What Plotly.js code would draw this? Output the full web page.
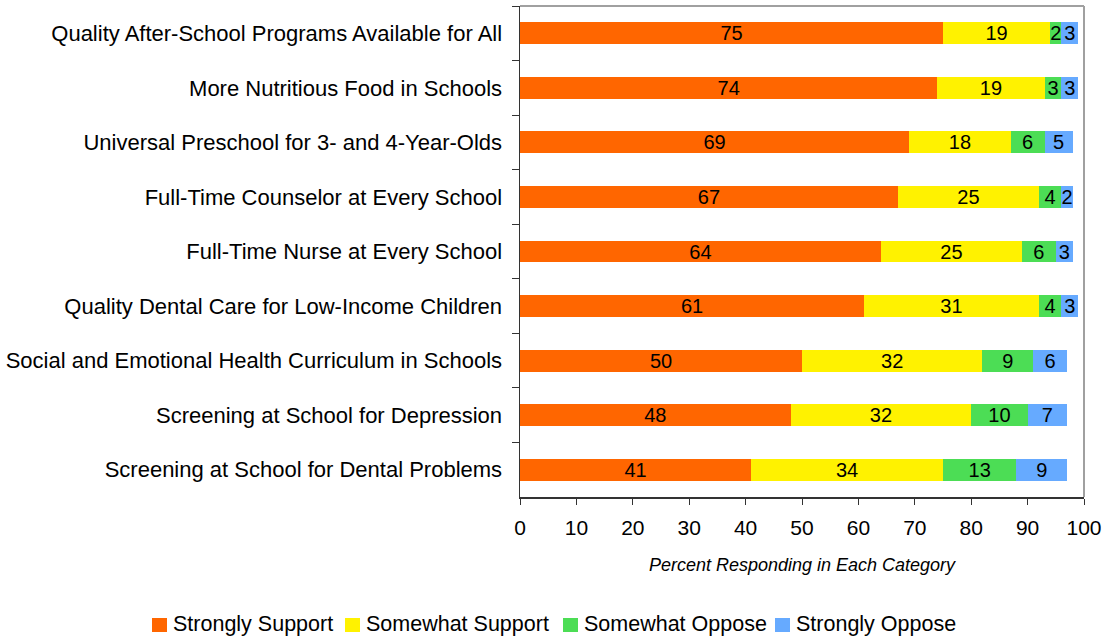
<!DOCTYPE html>
<html>
<head>
<meta charset="utf-8">
<script src="https://cdn.plot.ly/plotly-3.0.1.min.js"></script>
<style>html,body{margin:0;padding:0;background:#fff;}#chart{width:1104px;height:639px;}</style>
</head>
<body>
<div id="chart"></div>
<script>
const categories = [
  "Quality After-School Programs Available for All",
  "More Nutritious Food in Schools",
  "Universal Preschool for 3- and 4-Year-Olds",
  "Full-Time Counselor at Every School",
  "Full-Time Nurse at Every School",
  "Quality Dental Care for Low-Income Children",
  "Social and Emotional Health Curriculum in Schools",
  "Screening at School for Depression",
  "Screening at School for Dental Problems"
];
const stronglySupport = [75, 74, 69, 67, 64, 61, 50, 48, 41];
const somewhatSupport = [19, 19, 18, 25, 25, 31, 32, 32, 34];
const somewhatOppose  = [2, 3, 6, 4, 6, 4, 9, 10, 13];
const stronglyOppose  = [3, 3, 5, 2, 3, 3, 6, 7, 9];
const seriesNames = ["Strongly Support", "Somewhat Support", "Somewhat Oppose", "Strongly Oppose"];
const xTicks = [0, 10, 20, 30, 40, 50, 60, 70, 80, 90, 100];

const colors = ["#FF6600", "#FFF200", "#4CDD55", "#66AAFF"];
const seriesData = [stronglySupport, somewhatSupport, somewhatOppose, stronglyOppose];
const FONT = "Liberation Sans, Arial, sans-serif";

// plot-area geometry (pixels) used to place the legend below the chart
const M = {l: 520, r: 20, t: 6, b: 142};
const W = 1104, H = 639;
const PW = W - M.l - M.r, PH = H - M.t - M.b;
const px2x = p => (p - M.l) / PW;
const px2y = p => (H - M.b - p) / PH;
const legendSymbolLeft = [152, 345, 563, 775];

const traces = seriesData.map((vals, i) => ({
  type: "bar",
  orientation: "h",
  name: seriesNames[i],
  y: categories,
  x: vals,
  text: vals.map(String),
  textposition: "inside",
  insidetextanchor: "middle",
  textangle: 0,
  textfont: {family: FONT, size: 20, color: "#000"},
  marker: {color: colors[i], line: {width: 0}},
  hoverinfo: "x+y+name",
  showlegend: false
}));

const legendShapes = seriesNames.map((n, i) => ({
  type: "rect", xref: "paper", yref: "paper",
  x0: px2x(legendSymbolLeft[i]), x1: px2x(legendSymbolLeft[i] + 15),
  y0: px2y(632), y1: px2y(618),
  fillcolor: colors[i], line: {width: 0}
}));
const legendAnnotations = seriesNames.map((n, i) => ({
  xref: "paper", yref: "paper",
  x: px2x(legendSymbolLeft[i] + 19), y: px2y(624),
  xanchor: "left", yanchor: "middle",
  text: n, showarrow: false,
  font: {family: FONT, size: 21.5, color: "#000"}
}));

const layout = {
  width: W,
  height: H,
  margin: M,
  barmode: "stack",
  bargap: 0.6,
  paper_bgcolor: "#fff",
  plot_bgcolor: "#fff",
  font: {family: FONT, size: 20, color: "#000"},
  uniformtext: {mode: "show", minsize: 20},
  showlegend: false,
  xaxis: {
    range: [0, 100],
    tickvals: xTicks,
    ticktext: xTicks.map(String),
    ticks: "outside",
    ticklen: 6,
    tickcolor: "#333",
    showline: true,
    linecolor: "#333",
    linewidth: 1.5,
    showgrid: false,
    zeroline: false,
    tickfont: {size: 21},
    ticklabelstandoff: 5,
    title: {text: "Percent Responding in Each Category", font: {size: 18, style: "italic"}, standoff: 20},
    fixedrange: true
  },
  yaxis: {
    type: "category",
    autorange: "reversed",
    ticks: "outside",
    tickson: "boundaries",
    ticklen: 7,
    tickcolor: "#333",
    showline: true,
    linecolor: "#333",
    linewidth: 1.5,
    showgrid: false,
    zeroline: false,
    tickfont: {size: 22},
    ticklabelstandoff: 12,
    fixedrange: true
  },
  shapes: [
    {type: "line", xref: "paper", yref: "paper", x0: 0, x1: 1, y0: 1, y1: 1, line: {color: "#a0a0a0", width: 2}},
    {type: "line", xref: "paper", yref: "paper", x0: 1, x1: 1, y0: 0, y1: 1, line: {color: "#a0a0a0", width: 2}}
  ].concat(legendShapes),
  annotations: legendAnnotations
};

Plotly.newPlot("chart", traces, layout, {displayModeBar: false, staticPlot: true});
</script>
</body>
</html>
